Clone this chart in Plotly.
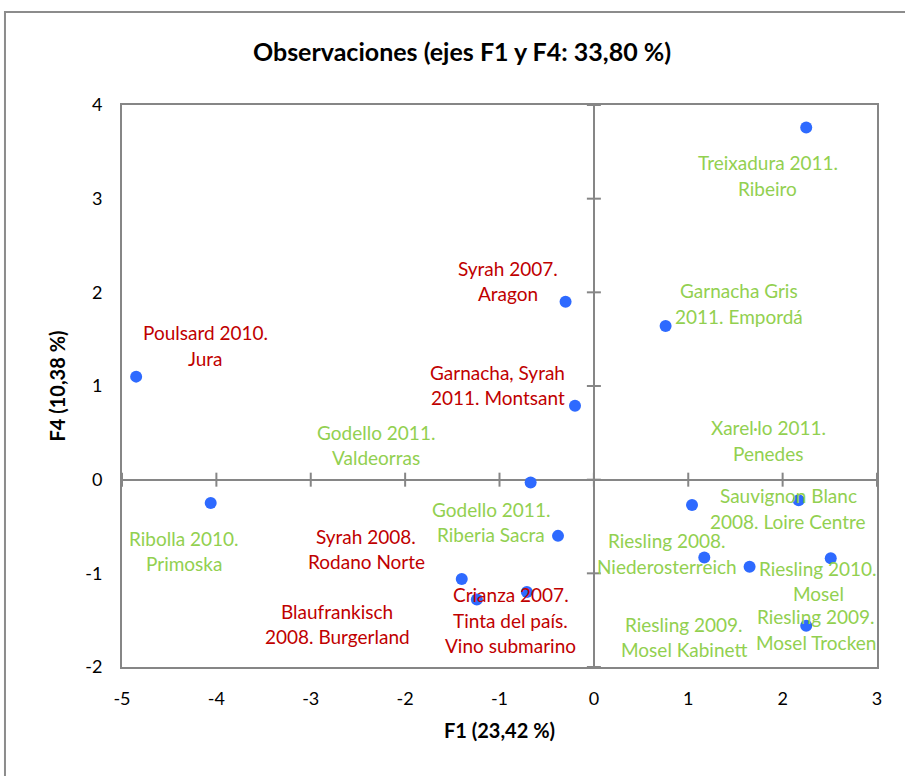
import plotly.graph_objects as go

# ---- data ----
names = [
    "Treixadura 2011. Ribeiro", "Garnacha Gris 2011. Empordá", "Syrah 2007. Aragon",
    "Garnacha, Syrah 2011. Montsant", "Poulsard 2010. Jura", "Godello 2011. Valdeorras",
    "Ribolla 2010. Primoska", "Godello 2011. Riberia Sacra", "Syrah 2008. Rodano Norte",
    "Blaufrankisch 2008. Burgerland", "Crianza 2007. Tinta del país. Vino submarino",
    "Xarel·lo 2011. Penedes", "Sauvignon Blanc 2008. Loire Centre", "Riesling 2008. Niederosterreich",
    "Riesling 2009. Mosel Kabinett", "Riesling 2010. Mosel", "Riesling 2009. Mosel Trocken",
]
label_lines = [
    ["Treixadura 2011.", "Ribeiro"], ["Garnacha Gris", "2011. Empordá"], ["Syrah 2007.", "Aragon"],
    ["Garnacha, Syrah", "2011. Montsant"], ["Poulsard 2010.", "Jura"], ["Godello 2011.", "Valdeorras"],
    ["Ribolla 2010.", "Primoska"], ["Godello 2011.", "Riberia Sacra"], ["Syrah 2008.", "Rodano Norte"],
    ["Blaufrankisch", "2008. Burgerland"], ["Crianza 2007.", "Tinta del país.", "Vino submarino"],
    ["Xarel·lo 2011.", "Penedes"], ["Sauvignon Blanc", "2008. Loire Centre"], ["Riesling 2008.", "Niederosterreich"],
    ["Riesling 2009.", "Mosel Kabinett"], ["Riesling 2010.", "Mosel"], ["Riesling 2009.", "Mosel Trocken"],
]
f1 = [2.25, 0.76, -0.30, -0.20, -4.85, -0.67, -4.06, -0.38, -1.40, -1.24, -0.71,
      1.04, 2.17, 1.17, 1.65, 2.51, 2.25]
f4 = [3.76, 1.64, 1.90, 0.79, 1.10, -0.03, -0.25, -0.60, -1.06, -1.28, -1.20,
      -0.27, -0.22, -0.83, -0.93, -0.84, -1.56]
# label centres (data units)
label_x = [1.84, 1.54, -0.91, -1.02, -4.11, -2.31, -4.34, -1.09, -2.41, -2.72, -0.88,
           1.85, 2.06, 0.78, 0.95, 2.38, 2.35]
label_y = [3.25, 1.88, 2.12, 1.01, 1.43, 0.37, -0.76, -0.45, -0.74, -1.54, -1.50,
           0.42, -0.31, -0.79, -1.68, -1.08, -1.60]
groups = ["g", "g", "r", "r", "r", "g", "g", "g", "r", "r", "r", "g", "g", "g", "g", "g", "g"]

x_ticks = [-5, -4, -3, -2, -1, 0, 1, 2, 3]
y_ticks = [-2, -1, 0, 1, 2, 3, 4]

colors = {"r": "#C00000", "g": "#92D050"}
FONT = "Lato, Carlito, Calibri, sans-serif"
GREY = "#868686"

fig = go.Figure()
fig.add_trace(go.Scatter(
    x=f1, y=f4, mode="markers", text=names, hoverinfo="text+x+y",
    marker=dict(color="#2E6AFF", size=12), showlegend=False,
))

annotations = []
LINE_H = 25.5
for lines, lx, ly, g in zip(label_lines, label_x, label_y, groups):
    n = len(lines)
    for i, t in enumerate(lines):
        annotations.append(dict(
            x=lx, y=ly, xref="x", yref="y", text=t, showarrow=False,
            yshift=((n - 1) / 2 - i) * LINE_H,
            font=dict(family=FONT, size=19, color=colors[g]),
            xanchor="center", yanchor="middle",
        ))

shapes = []
# tick marks crossing the zero lines
for v in x_ticks:
    shapes.append(dict(type="line", xref="x", yref="y", x0=v, x1=v,
                       ysizemode="pixel", yanchor=0, y0=-7, y1=7,
                       line=dict(color=GREY, width=2)))
for v in y_ticks:
    shapes.append(dict(type="line", xref="x", yref="y", y0=v, y1=v,
                       xsizemode="pixel", xanchor=0, x0=-7, x1=7,
                       line=dict(color=GREY, width=2)))
# outer chart border
shapes.append(dict(type="rect", xref="paper", yref="paper",
                   x0=-0.155, x1=1.06, y0=-0.22, y1=1.1655,
                   line=dict(color="#8C8C8C", width=2), fillcolor="rgba(0,0,0,0)", layer="below"))

fig.update_layout(
    width=905, height=776,
    margin=dict(l=122, r=28, t=105, b=109),
    paper_bgcolor="white", plot_bgcolor="white",
    font=dict(family=FONT, color="black"),
    title=dict(text="<b>Observaciones (ejes F1 y F4: 33,80 %)</b>",
               x=462 / 905, xref="container", xanchor="center",
               y=1 - 52 / 776, yref="container", yanchor="middle",
               font=dict(family=FONT, size=25, color="black")),
    xaxis=dict(range=[-5, 3], tickvals=x_ticks, ticktext=[str(v) for v in x_ticks],
               showgrid=False, zeroline=True, zerolinecolor=GREY, zerolinewidth=2,
               showline=True, mirror=True, linecolor=GREY, linewidth=2,
               ticks="", ticklabelstandoff=14, automargin=False,
               tickfont=dict(family=FONT, size=18, color="black"),
               title=dict(text="<b>F1 (23,42 %)</b>", standoff=16,
                          font=dict(family=FONT, size=20, color="black"))),
    yaxis=dict(range=[-2, 4], tickvals=y_ticks, ticktext=[str(v) for v in y_ticks],
               showgrid=False, zeroline=True, zerolinecolor=GREY, zerolinewidth=2,
               showline=True, mirror=True, linecolor=GREY, linewidth=2,
               ticks="", ticklabelstandoff=14, automargin=False,
               tickfont=dict(family=FONT, size=18, color="black"),
               title=dict(text="<b>F4 (10,38 %)</b>", standoff=14,
                          font=dict(family=FONT, size=20, color="black"))),
    annotations=annotations,
    shapes=shapes,
)

fig.write_html("out.html")
